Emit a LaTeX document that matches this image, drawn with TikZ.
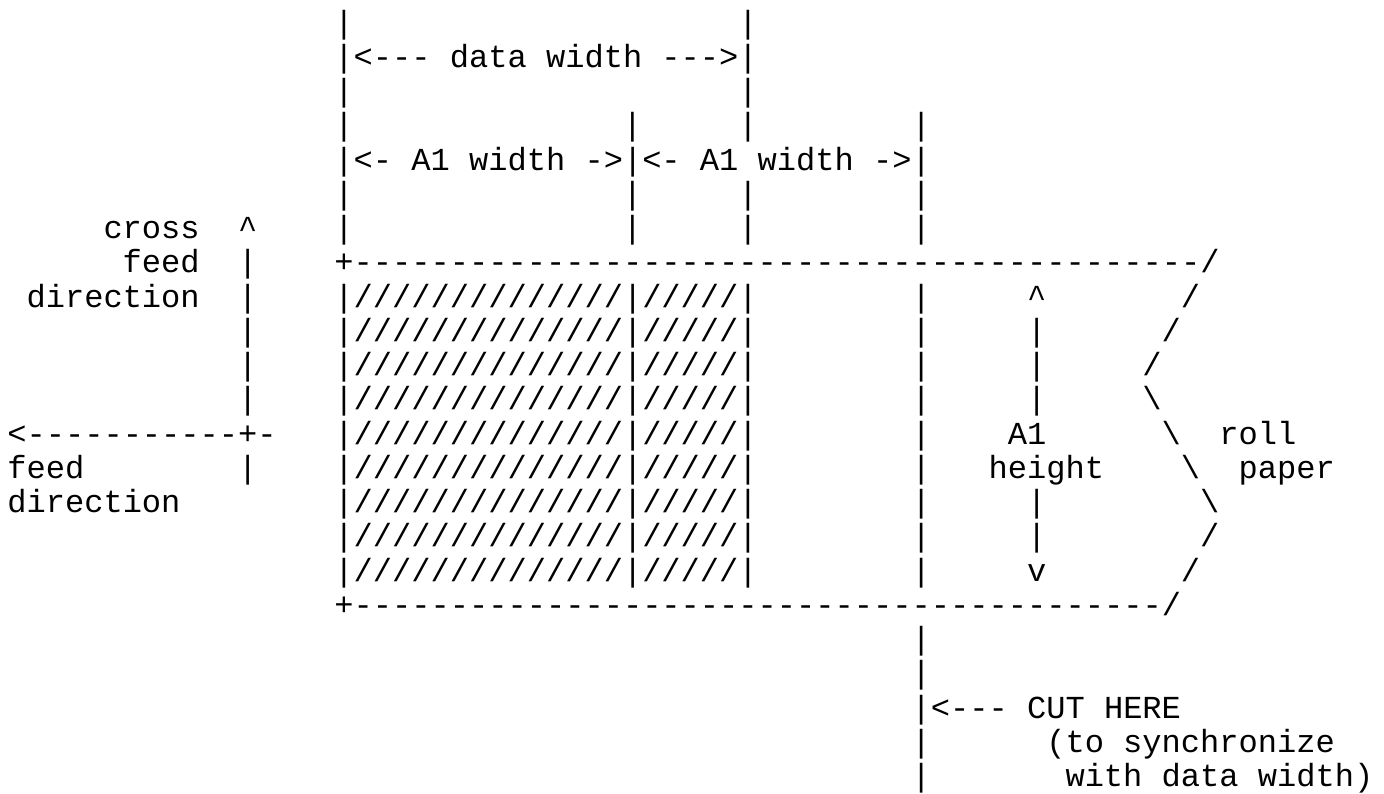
\documentclass[tikz,border=0pt]{standalone}
\usepackage{fontspec}
\setmonofont{Liberation Mono}
\tikzset{
  txt/.style={font=\ttfamily\fontsize{32.07}{34.25}\selectfont, anchor=base west,
              inner sep=0pt, outer sep=0pt, text=black},
}
% name, column, row, text
\newcommand\cell[4]{\node[txt] (#1) at ({7.3+19.24*(#2)},{-33-34.25*(#3)}) {#4};}
\begin{document}
\begin{tikzpicture}[x=1pt,y=1pt]
\useasboundingbox (0,0) rectangle (1384,-793);
\fill[white] (0,0) rectangle (1384,-793);

% --- data width dimension ---
\foreach \r in {0,2} {\foreach \c in {17,38} {\cell{bar\c-\r}{\c}{\r}{|}}}
\cell{dataw}{17}{1}{|<--- data width --->|}

% --- A1 width dimensions ---
\foreach \r in {3,5,6} {\foreach \c in {17,32,38,47} {\cell{bar\c-\r}{\c}{\r}{|}}}
\cell{aonew}{17}{4}{|<- A1 width ->|<- A1 width ->|}

% --- direction legend ---
\cell{cross}{5}{6}{cross}
\cell{crossarrow}{12}{6}{\textasciicircum}
\cell{cfeed}{6}{7}{feed}
\cell{cdir}{1}{8}{direction}
\foreach \r in {7,8,9,10,11,13} {\cell{leg\r}{12}{\r}{|}}
\cell{feedarrow}{0}{12}{<-----------+-}
\cell{ffeed}{0}{13}{feed}
\cell{fdir}{0}{14}{direction}

% --- paper borders ---
\cell{topedge}{17}{7}{+--------------------------------------------/}
\cell{botedge}{17}{17}{+------------------------------------------/}

% --- hatched area and cut line ---
\foreach \r in {8,...,16} {
  \cell{hatch\r}{17}{\r}{|//////////////|/////|}
  \cell{cut\r}{47}{\r}{|}
}
\foreach \r in {18,19,21,22} {\cell{cut\r}{47}{\r}{|}}
\cell{cuthere}{47}{20}{|<--- CUT HERE}
\cell{sync}{54}{21}{(to synchronize}
\cell{withdw}{55}{22}{with data width)}

% --- A1 height dimension ---
\cell{hup}{53}{8}{\textasciicircum}
\foreach \r in {9,10,11,14,15} {\cell{hbar\r}{53}{\r}{|}}
\cell{aone}{52}{12}{A1}
\cell{height}{51}{13}{height}
\cell{hdown}{53}{16}{v}

% --- roll paper torn edge ---
\cell{z8}{61}{8}{/}
\cell{z9}{60}{9}{/}
\cell{z10}{59}{10}{/}
\cell{z11}{59}{11}{\textbackslash}
\cell{z12}{60}{12}{\textbackslash}
\cell{z13}{61}{13}{\textbackslash}
\cell{z14}{62}{14}{\textbackslash}
\cell{z15}{62}{15}{/}
\cell{z16}{61}{16}{/}
\cell{roll}{63}{12}{roll}
\cell{paper}{64}{13}{paper}
\end{tikzpicture}
\end{document}
